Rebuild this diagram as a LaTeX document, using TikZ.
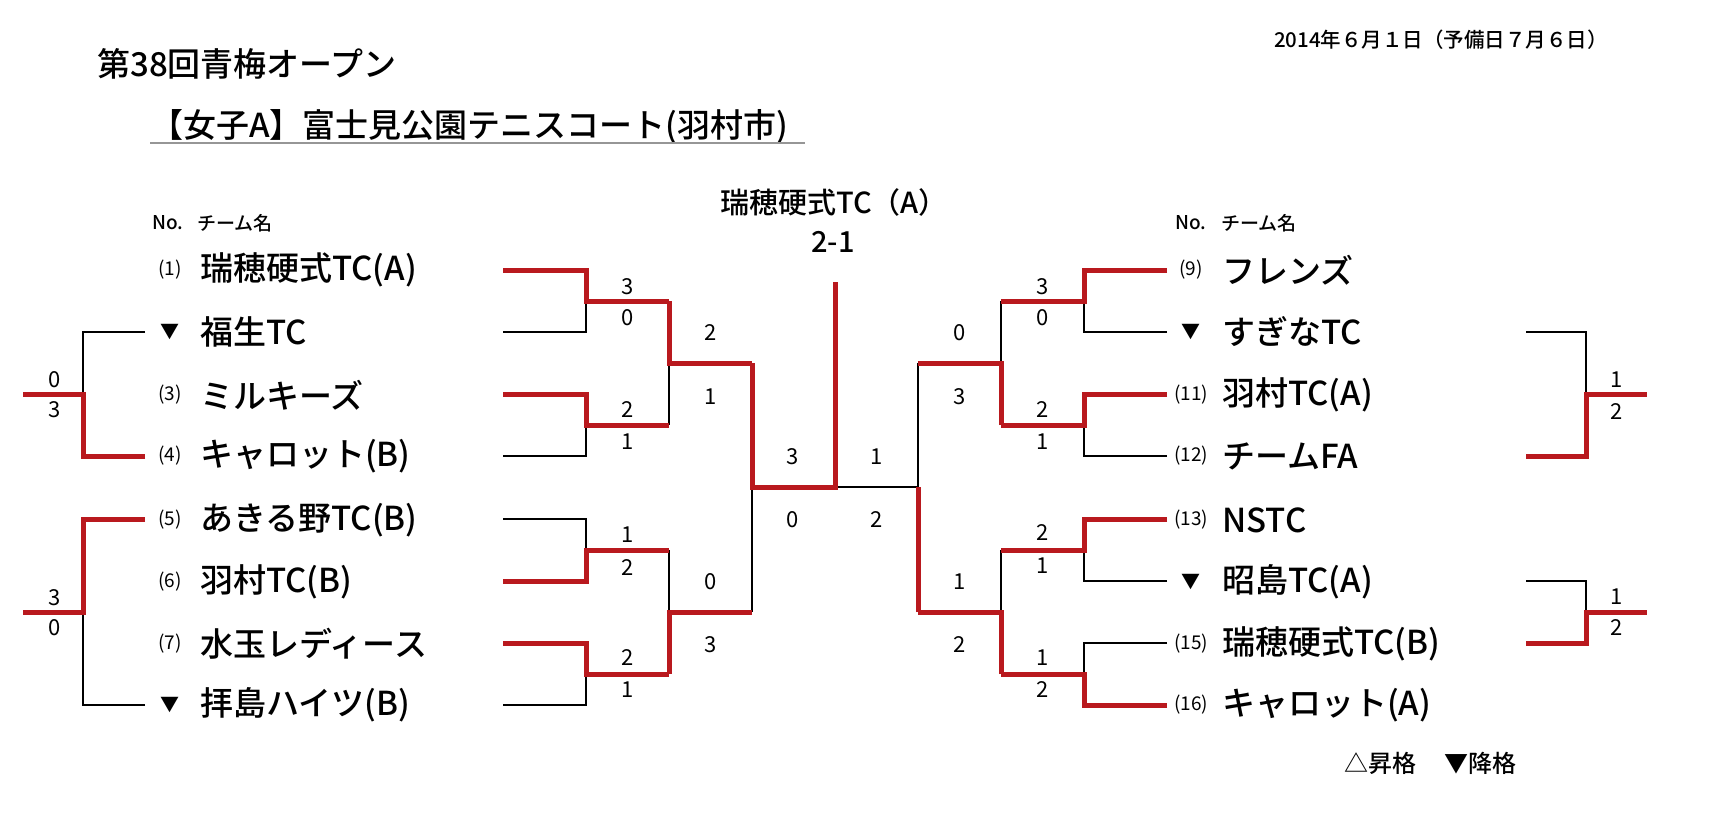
\documentclass[tikz,border=0pt]{standalone}
\usepackage{fontspec}
\setmainfont{Noto Sans CJK JP}[BoldFont={Noto Sans CJK JP Medium}]
\definecolor{bracketred}{RGB}{185,25,30}
\definecolor{ulgrey}{RGB}{150,150,150}
\begin{document}
\begin{tikzpicture}[x=1pt,y=-1pt,
  teamname/.style={anchor=west,inner sep=0pt,font=\fontsize{33}{38}\selectfont\bfseries},
  seedno/.style={inner sep=0pt,font=\fontsize{19}{22}\selectfont},
  hdr/.style={anchor=west,inner sep=0pt,font=\fontsize{19}{22}\selectfont\bfseries},
  scorelbl/.style={inner sep=0pt,font=\fontsize{22}{24}\selectfont},
  bigtext/.style={inner sep=0pt,font=\fontsize{33}{38}\selectfont\bfseries},
  redline/.style={draw=bracketred,line width=5pt,line join=miter},
  blackline/.style={draw=black,line width=1.6pt},
]
\useasboundingbox (0,0) rectangle (1719,812);
\fill[white] (0,0) rectangle (1719,812);

% ---------- headings ----------
\node[bigtext,anchor=west] (title) at (97,64) {第38回青梅オープン};
\node[anchor=east,inner sep=0pt,font=\fontsize{20.5}{24}\selectfont\bfseries] (date) at (1608,40) {2014年６月１日（予備日７月６日）};
\node[bigtext,anchor=west] (sub) at (150,127) {【女子A】富士見公園テニスコート(羽村市)};
\coordinate (ulA) at (150,143);
\coordinate (ulB) at (805,143);
\draw[ulgrey,line width=1.5pt] (ulA) -- (ulB);

\node[inner sep=0pt,font=\fontsize{29}{34}\selectfont\bfseries] (champ) at (834,202) {瑞穂硬式TC（A）};
\node[inner sep=0pt,font=\fontsize{29}{34}\selectfont\bfseries] (champscore) at (833,242) {2-1};

\node[hdr] (noL) at (152,223) {No.};
\node[hdr] (tmL) at (197,223) {チーム名};
\node[hdr] (noR) at (1175,223) {No.};
\node[hdr] (tmR) at (1221,223) {チーム名};

% ---------- left teams ----------
\node[seedno] (s1) at (170,270) {(1)};
\node[teamname] (t1) at (200,270) {瑞穂硬式TC(A)};
\node[seedno] (s2) at (170,332) {▼};
\node[teamname] (t2) at (200,332) {福生TC};
\node[seedno] (s3) at (170,395) {(3)};
\node[teamname] (t3) at (200,395) {ミルキーズ};
\node[seedno] (s4) at (170,456) {(4)};
\node[teamname] (t4) at (200,456) {キャロット(B)};
\node[seedno] (s5) at (170,520) {(5)};
\node[teamname] (t5) at (200,520) {あきる野TC(B)};
\node[seedno] (s6) at (170,582) {(6)};
\node[teamname] (t6) at (200,582) {羽村TC(B)};
\node[seedno] (s7) at (170,644) {(7)};
\node[teamname] (t7) at (200,644) {水玉レディース};
\node[seedno] (s8) at (170,705) {▼};
\node[teamname] (t8) at (200,705) {拝島ハイツ(B)};

% ---------- right teams ----------
\node[seedno] (s9) at (1191,270) {(9)};
\node[teamname] (t9) at (1222,270) {フレンズ};
\node[seedno] (s10) at (1191,332) {▼};
\node[teamname] (t10) at (1222,332) {すぎなTC};
\node[seedno] (s11) at (1191,395) {(11)};
\node[teamname] (t11) at (1222,395) {羽村TC(A)};
\node[seedno] (s12) at (1191,456) {(12)};
\node[teamname] (t12) at (1222,456) {チームFA};
\node[seedno] (s13) at (1191,520) {(13)};
\node[teamname] (t13) at (1222,520) {NSTC};
\node[seedno] (s14) at (1191,582) {▼};
\node[teamname] (t14) at (1222,582) {昭島TC(A)};
\node[seedno] (s15) at (1191,644) {(15)};
\node[teamname] (t15) at (1222,644) {瑞穂硬式TC(B)};
\node[seedno] (s16) at (1191,705) {(16)};
\node[teamname] (t16) at (1222,705) {キャロット(A)};

% ---------- bracket coordinates ----------
\coordinate (L1) at (503,270); \coordinate (L2) at (503,332);
\coordinate (L3) at (503,394); \coordinate (L4) at (503,456);
\coordinate (L5) at (503,519); \coordinate (L6) at (503,581);
\coordinate (L7) at (503,643); \coordinate (L8) at (503,705);
\coordinate (J1) at (586,301); \coordinate (A1) at (669,301);
\coordinate (J2) at (586,425); \coordinate (A2) at (669,425);
\coordinate (J3) at (586,550); \coordinate (A3) at (669,550);
\coordinate (J4) at (586,674); \coordinate (A4) at (669,674);
\coordinate (B1) at (752,363); \coordinate (B2) at (752,612);
\coordinate (F) at (835,487); \coordinate (Top) at (835,282);
\coordinate (R9) at (1167,270);  \coordinate (R10) at (1167,332);
\coordinate (R11) at (1167,394); \coordinate (R12) at (1167,456);
\coordinate (R13) at (1167,519); \coordinate (R14) at (1167,581);
\coordinate (R15) at (1167,643); \coordinate (R16) at (1167,705);
\coordinate (J5) at (1084,301); \coordinate (A5) at (1001,301);
\coordinate (J6) at (1084,425); \coordinate (A6) at (1001,425);
\coordinate (J7) at (1084,550); \coordinate (A7) at (1001,550);
\coordinate (J8) at (1084,674); \coordinate (A8) at (1001,674);
\coordinate (B3) at (918,363); \coordinate (B4) at (918,612);

% ---------- losers (black) ----------
\draw[blackline] (L2) -| (J1);
\draw[blackline] (L4) -| (J2);
\draw[blackline] (L5) -| (J3);
\draw[blackline] (L8) -| (J4);
\draw[blackline] (A2) -- (A2 |- B1);
\draw[blackline] (A3) -- (A3 |- B2);
\draw[blackline] (B2) -- (B2 |- F);
\draw[blackline] (F) -- (B3 |- F) -- (B3);
\draw[blackline] (R10) -| (J5);
\draw[blackline] (R12) -| (J6);
\draw[blackline] (R14) -| (J7);
\draw[blackline] (R15) -| (J8);
\draw[blackline] (A5) -- (A5 |- B3);
\draw[blackline] (A7) -- (A7 |- B4);

% ---------- winners (red) ----------
\draw[redline] (L1) -| (J1) -- (A1);
\draw[redline] (L3) -| (J2) -- (A2);
\draw[redline] (L6) -| (J3) -- (A3);
\draw[redline] (L7) -| (J4) -- (A4);
\draw[redline] (A1) |- (B1);
\draw[redline] (A4) |- (B2);
\draw[redline] (B1) |- (F) -- (Top);
\draw[redline] (B4) -- (B4 |- F);
\draw[redline] (R9) -| (J5) -- (A5);
\draw[redline] (R11) -| (J6) -- (A6);
\draw[redline] (R13) -| (J7) -- (A7);
\draw[redline] (R16) -| (J8) -- (A8);
\draw[redline] (A6) |- (B3);
\draw[redline] (A8) |- (B4);

% ---------- outer brackets ----------
\coordinate (OL2) at (145,332); \coordinate (OL4) at (145,456);
\coordinate (OLj1) at (83,394); \coordinate (OLe1) at (23,394);
\coordinate (OL5) at (145,519); \coordinate (OL8) at (145,705);
\coordinate (OLj2) at (83,612); \coordinate (OLe2) at (23,612);
\coordinate (OR10) at (1526,332); \coordinate (OR12) at (1526,456);
\coordinate (ORj1) at (1586,394); \coordinate (ORe1) at (1647,394);
\coordinate (OR14) at (1526,581); \coordinate (OR15) at (1526,643);
\coordinate (ORj2) at (1586,612); \coordinate (ORe2) at (1647,612);
\draw[blackline] (OL2) -| (OLj1);
\draw[blackline] (OL8) -| (OLj2);
\draw[blackline] (OR10) -| (ORj1);
\draw[blackline] (OR14) -| (ORj2);
\draw[redline] (OL4) -| (OLj1) -- (OLe1);
\draw[redline] (OL5) -| (OLj2) -- (OLe2);
\draw[redline] (OR12) -| (ORj1) -- (ORe1);
\draw[redline] (OR15) -| (ORj2) -- (ORe2);

% ---------- scores ----------
\node[scorelbl] (sc1) at (628,287) {3};  \node[scorelbl] (sc2) at (628,318) {0};
\node[scorelbl] (sc3) at (628,410) {2};  \node[scorelbl] (sc4) at (628,442) {1};
\node[scorelbl] (sc5) at (628,535) {1};  \node[scorelbl] (sc6) at (628,568) {2};
\node[scorelbl] (sc7) at (628,658) {2};  \node[scorelbl] (sc8) at (628,690) {1};
\node[scorelbl] (sc9) at (711,333) {2};  \node[scorelbl] (sc10) at (711,397) {1};
\node[scorelbl] (sc11) at (711,582) {0}; \node[scorelbl] (sc12) at (711,645) {3};
\node[scorelbl] (sc13) at (793,457) {3}; \node[scorelbl] (sc14) at (793,520) {0};
\node[scorelbl] (sc15) at (877,457) {1}; \node[scorelbl] (sc16) at (877,520) {2};
\node[scorelbl] (sc17) at (960,333) {0}; \node[scorelbl] (sc18) at (960,397) {3};
\node[scorelbl] (sc19) at (960,582) {1}; \node[scorelbl] (sc20) at (960,645) {2};
\node[scorelbl] (sc21) at (1043,287) {3}; \node[scorelbl] (sc22) at (1043,318) {0};
\node[scorelbl] (sc23) at (1043,410) {2}; \node[scorelbl] (sc24) at (1043,442) {1};
\node[scorelbl] (sc25) at (1043,533) {2}; \node[scorelbl] (sc26) at (1043,566) {1};
\node[scorelbl] (sc27) at (1043,658) {1}; \node[scorelbl] (sc28) at (1043,690) {2};
\node[scorelbl] (sc29) at (55,380) {0};  \node[scorelbl] (sc30) at (55,410) {3};
\node[scorelbl] (sc31) at (55,598) {3};  \node[scorelbl] (sc32) at (55,628) {0};
\node[scorelbl] (sc33) at (1617,380) {1}; \node[scorelbl] (sc34) at (1617,412) {2};
\node[scorelbl] (sc35) at (1617,597) {1}; \node[scorelbl] (sc36) at (1617,628) {2};

% ---------- legend ----------
\node[anchor=west,inner sep=0pt,font=\fontsize{24}{28}\selectfont\bfseries] (promo) at (1344,763) {△昇格};
\node[anchor=west,inner sep=0pt,font=\fontsize{24}{28}\selectfont\bfseries] (demo) at (1444,763) {▼降格};
\end{tikzpicture}
\end{document}
